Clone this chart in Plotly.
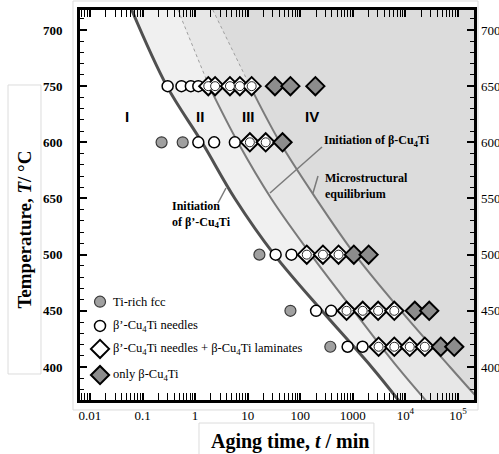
import numpy as np
import plotly.graph_objects as go

# ---- aging experiments: aging time (min) and temperature (°C) per microstructure ----
fcc_t = [0.23, 0.58, 16.7, 65, 373]
fcc_T = [600, 600, 500, 450, 418]

needle_t = [0.30, 0.55, 0.83, 1.15, 1.15, 2.3, 5.7, 34, 68, 200, 387, 796, 1530]
needle_T = [650, 650, 650, 650, 600, 600, 600, 500, 500, 450, 450, 418, 418]

mixed_t = [1.78, 2.4, 4.6, 7.1, 11.9, 11, 22, 133, 270, 535,
           760, 1540, 3030, 6150, 3090, 6150, 12100, 23400]
mixed_T = [650, 650, 650, 650, 650, 600, 600, 500, 500, 500,
           450, 450, 450, 450, 418, 418, 418, 418]

beta_t = [33, 65, 194, 46, 1045, 2000, 15100, 28400, 47100, 85000]
beta_T = [650, 650, 650, 600, 500, 500, 450, 450, 418, 418]

# ---- region boundaries (time at each temperature) ----
curve_T = [718, 650, 600, 550, 500, 450, 400, 370]
beta_prime_start_t = [0.062, 0.29, 1.35, 5.7, 32, 258, 2270, 7500]      # initiation of β'-Cu4Ti
beta_start_t = [0.47, 1.84, 6.5, 28, 160, 1040, 7030, 24600]           # initiation of β-Cu4Ti
equilibrium_t = [2.16, 11.1, 41, 199, 1100, 8240, 70500, 262000]        # microstructural equilibrium

region_names = ["I", "II", "III", "IV"]
region_label_t = [0.05, 1.24, 10.3, 169]
region_label_T = 623

# ---- axis tick labels ----
x_tickvals = [0.01, 0.1, 1, 10, 100, 1000, 1e4, 1e5]
x_ticktext = ["0.01", "0.1", "1", "10", "100", "1000", "10<sup>4</sup>", "10<sup>5</sup>"]
y_tickvals = [400, 450, 500, 550, 600, 650, 700]
y_ticktext_left = ["400", "450", "500", "650", "600", "750", "700"]
y_ticktext_right = ["400", "450", "500", "550", "600", "650", "700"]

legend_labels = [
    "Ti-rich fcc",
    "β’-Cu<sub>4</sub>Ti needles",
    "β’-Cu<sub>4</sub>Ti needles + β-Cu<sub>4</sub>Ti laminates",
    "only β-Cu<sub>4</sub>Ti",
]

SERIF = "Liberation Serif"
SANS = "Liberation Sans"
X_RANGE = [-2.19, 5.305]
Y_RANGE = [370.6, 717.8]
T_EDGE = 10 ** 5.6

fig = go.Figure()

# shaded bands: everything to the right of each boundary, progressively darker
band_colors = ["#f0f0f0", "#e7e7e7", "#dcdcdc"]
for bt, col in zip([beta_prime_start_t, beta_start_t, equilibrium_t], band_colors):
    fig.add_trace(go.Scatter(x=bt, y=curve_T, mode="lines",
                             line=dict(width=0, shape="spline", color=col),
                             hoverinfo="skip"))
    fig.add_trace(go.Scatter(x=[T_EDGE, T_EDGE], y=[curve_T[0], curve_T[-1]],
                             mode="lines", line=dict(width=0, color=col),
                             fill="tonextx", fillcolor=col, hoverinfo="skip"))

# boundary lines
fig.add_trace(go.Scatter(x=beta_prime_start_t, y=curve_T, mode="lines",
                         line=dict(color="#505050", width=3, shape="spline"),
                         hoverinfo="skip"))
for bt in [beta_start_t, equilibrium_t]:
    fig.add_trace(go.Scatter(x=bt[:2], y=curve_T[:2], mode="lines",
                             line=dict(color="#a0a0a0", width=1, dash="dot"),
                             hoverinfo="skip"))
    fig.add_trace(go.Scatter(x=bt[1:], y=curve_T[1:], mode="lines",
                             line=dict(color="#7a7a7a", width=2, shape="spline"),
                             hoverinfo="skip"))

# experimental points
fcc_marker = dict(symbol="circle", size=11, color="#a0a0a0", line=dict(color="#3a3a3a", width=1.2))
needle_marker = dict(symbol="circle", size=11, color="white", line=dict(color="black", width=1.5))
mixed_marker = dict(symbol="diamond", size=14, color="white", line=dict(color="black", width=2))
mixed_inner = dict(symbol="circle", size=9, color="white", line=dict(color="#222222", width=1))
beta_marker = dict(symbol="diamond", size=14, color="#8c8c8c", line=dict(color="black", width=2))

fig.add_trace(go.Scatter(x=fcc_t, y=fcc_T, mode="markers", marker=fcc_marker, name=legend_labels[0]))
fig.add_trace(go.Scatter(x=needle_t, y=needle_T, mode="markers", marker=needle_marker, name=legend_labels[1]))
fig.add_trace(go.Scatter(x=mixed_t, y=mixed_T, mode="markers", marker=mixed_marker, name=legend_labels[2]))
fig.add_trace(go.Scatter(x=mixed_t, y=mixed_T, mode="markers", marker=mixed_inner, hoverinfo="skip"))
fig.add_trace(go.Scatter(x=beta_t, y=beta_T, mode="markers", marker=beta_marker, name=legend_labels[3]))

# right-hand temperature axis (needs a trace to be drawn)
fig.add_trace(go.Scatter(x=[1], y=[500], yaxis="y3", mode="markers",
                         marker=dict(opacity=0), hoverinfo="skip"))

# hand-placed legend (unit square overlay)
leg_y = [0.252, 0.190, 0.131, 0.064]
leg_x = 0.0508
for yy, mk in zip(leg_y, [fcc_marker, needle_marker, mixed_marker, beta_marker]):
    fig.add_trace(go.Scatter(x=[leg_x], y=[yy], xaxis="x2", yaxis="y2", mode="markers",
                             marker=mk, hoverinfo="skip"))
annotations = []
for yy, lab in zip(leg_y, legend_labels):
    annotations.append(dict(x=0.0787, y=yy, xref="paper", yref="paper", text=lab,
                            showarrow=False, xanchor="left", yanchor="middle",
                            font=dict(family=SERIF, size=12.5, color="black")))

# region numerals
for name, t in zip(region_names, region_label_t):
    annotations.append(dict(x=np.log10(t), y=region_label_T, xref="x", yref="y", text=name,
                            showarrow=False, xanchor="center", yanchor="middle",
                            font=dict(family=SANS, size=15, color="black", weight="bold")))

# boundary captions
cap_font = dict(family=SERIF, size=12, color="black", weight="bold")
annotations += [
    dict(x=0.6134, y=0.6641, xref="paper", yref="paper",
         text="Initiation of β-Cu<sub>4</sub>Ti", showarrow=False,
         xanchor="left", yanchor="middle", font=cap_font),
    dict(x=0.6175, y=0.5497, xref="paper", yref="paper",
         text="Microstructural<br>equilibrium", showarrow=False, align="left",
         xanchor="left", yanchor="middle", font=cap_font),
    dict(x=0.2290, y=0.4769, xref="paper", yref="paper",
         text="Initiation<br>of β’-Cu<sub>4</sub>Ti", showarrow=False, align="left",
         xanchor="left", yanchor="middle", font=cap_font),
    # axis titles
    dict(x=0.533, y=-0.107, xref="paper", yref="paper",
         text="Aging time, <i>t</i> / min", showarrow=False,
         xanchor="center", yanchor="middle",
         font=dict(family=SERIF, size=20, color="black", weight="bold")),
    dict(x=-0.1396, y=0.437, xref="paper", yref="paper",
         text="Temperature, <i>T</i>/ °C", showarrow=False, textangle=-90,
         xanchor="center", yanchor="middle",
         font=dict(family=SERIF, size=19, color="black", weight="bold")),
]

# leader lines from captions to their boundaries, and frames around the titles
lead = dict(color="#7a7a7a", width=1.5)
frame = dict(color="#dcdcdc", width=1)
shapes = [
    dict(type="rect", xref="paper", yref="paper", x0=-0.0178, x1=1.0102, y0=-0.0256, y1=1.0231,
         line=frame, layer="below"),
    dict(type="rect", xref="paper", yref="paper", x0=-0.1827, x1=-0.099, y0=0.0667, y1=0.8077,
         line=frame, layer="below"),
    dict(type="rect", xref="paper", yref="paper", x0=0.302, x1=0.746, y0=-0.16, y1=-0.059,
         line=frame, layer="below"),
    dict(type="line", xref="paper", yref="paper", x0=0.3503, y0=0.5051, x1=0.3706, y1=0.5436, line=lead),
    dict(type="line", xref="paper", yref="paper", x0=0.4822, y0=0.5308, x1=0.6142, y1=0.6487, line=lead),
    dict(type="line", xref="paper", yref="paper", x0=0.5914, y0=0.5308, x1=0.6041, y1=0.5744, line=lead),
]

minor_x = [k * 10.0 ** n for n in range(-3, 6) for k in range(2, 10)]

axis_common = dict(showgrid=False, zeroline=False, showline=True, linewidth=3, linecolor="black",
                   ticks="inside", ticklen=7, tickwidth=2, tickcolor="black", mirror="allticks",
                   automargin=False)

fig.update_layout(
    width=499, height=454,
    margin=dict(l=80, r=25, t=10, b=54, autoexpand=False),
    paper_bgcolor="white", plot_bgcolor="white",
    showlegend=False,
    xaxis=dict(type="log", range=X_RANGE, tickmode="array", tickvals=x_tickvals, ticktext=x_ticktext,
               tickfont=dict(family=SERIF, size=13, color="black"), ticklabelstandoff=1,
               minor=dict(tickvals=minor_x, ticks="inside", ticklen=4, tickwidth=1.2, tickcolor="black"),
               **axis_common),
    yaxis=dict(range=Y_RANGE, tickmode="array", tickvals=y_tickvals, ticktext=y_ticktext_left,
               tickfont=dict(family=SERIF, size=13, color="black", weight="bold"), ticklabelstandoff=12,
               minor=dict(tickmode="linear", tick0=400, dtick=10, ticks="inside", ticklen=4,
                          tickwidth=1.2, tickcolor="black"),
               **axis_common),
    yaxis3=dict(overlaying="y", side="right", anchor="x", range=Y_RANGE, tickmode="array",
                tickvals=y_tickvals, ticktext=y_ticktext_right, showline=False, ticks="",
                showgrid=False, zeroline=False, ticklabelstandoff=6, automargin=False,
                tickfont=dict(family=SERIF, size=13, color="black")),
    xaxis2=dict(overlaying="x", anchor="y2", range=[0, 1], visible=False),
    yaxis2=dict(overlaying="y", anchor="x2", range=[0, 1], visible=False),
    annotations=annotations,
    shapes=shapes,
)

fig.write_html("out.html")
